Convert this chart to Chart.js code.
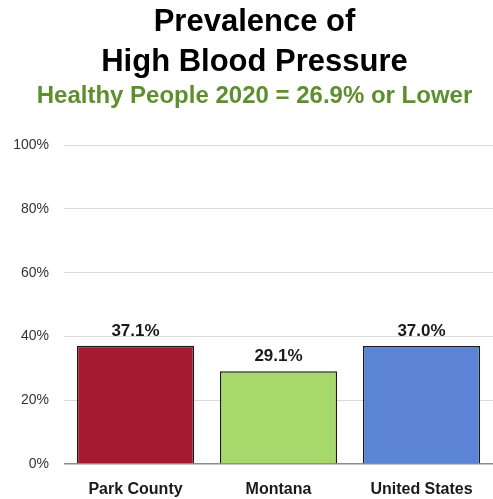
<!DOCTYPE html>
<html>
<head>
<meta charset="utf-8">
<script src="https://cdn.jsdelivr.net/npm/chart.js@4"></script>
<style>
  html, body { margin: 0; padding: 0; background: #fff; }
  #wrap { width: 493px; height: 499px; }
</style>
</head>
<body>
<div id="wrap"><canvas id="Chart1"></canvas></div>
<script>
// chart values
const categories = ['Park County', 'Montana', 'United States'];
const prevalence = [37.1, 29.1, 37.0];
const barColors = ['#A51A30', '#A7D86A', '#5B84D6'];
const yTicks = [0, 20, 40, 60, 80, 100];

const narrow = "'Liberation Sans Narrow', 'Arial Narrow', 'Liberation Sans', Arial, sans-serif";

// draws the value above each bar
const valueLabels = {
  id: 'valueLabels',
  afterDatasetsDraw(chart) {
    const ctx = chart.ctx;
    const meta = chart.getDatasetMeta(0);
    ctx.save();
    ctx.font = 'bold 17px ' + narrow;
    ctx.fillStyle = '#1a1a1a';
    ctx.textAlign = 'center';
    ctx.textBaseline = 'alphabetic';
    meta.data.forEach((bar, i) => {
      ctx.fillText(prevalence[i].toFixed(1) + '%', bar.x, bar.y - 10);
    });
    ctx.restore();
  }
};

// nudge title + subtitle a bit to the right, like the original
const shiftTitles = {
  id: 'shiftTitles',
  afterLayout(chart) {
    chart.boxes.forEach(b => {
      if (b.fullSize && b.options && b.options.text !== undefined) {
        b.left += 16;
      }
    });
  }
};

function drawChart() {
  const ctx = document.getElementById('Chart1');
  const chartdata = {
    labels: categories,
    datasets: [{
      data: prevalence,
      backgroundColor: barColors,
      borderColor: '#1a1a1a',
      borderWidth: 1.5,
      categoryPercentage: 0.82,
      barPercentage: 1.0
    }]
  };

  const config = {
    type: 'bar',
    data: chartdata,
    plugins: [valueLabels, shiftTitles],
    options: {
      responsive: true,
      maintainAspectRatio: false,
      animation: false,
      layout: { padding: { left: 0, right: 0, top: 0, bottom: 0 } },
      plugins: {
        legend: { display: false },
        tooltip: { enabled: false },
        title: {
          display: true,
          text: ['Prevalence of', 'High Blood Pressure'],
          color: '#000',
          font: { family: 'Liberation Sans, Arial, sans-serif', size: 31, weight: 'bold', lineHeight: 1.3 },
          padding: { top: 2, bottom: 0 }
        },
        subtitle: {
          display: true,
          text: 'Healthy People 2020 = 26.9% or Lower',
          color: '#5E8F2E',
          font: { family: 'Liberation Sans, Arial, sans-serif', size: 24, weight: 'bold', lineHeight: 1.15 },
          padding: { top: 0, bottom: 35 }
        }
      },
      scales: {
        x: {
          grid: { display: false },
          border: { display: false },
          afterFit(scale) { scale.height = 35; },
          ticks: {
            color: '#1a1a1a',
            font: { family: narrow, size: 16, weight: 'bold' },
            padding: 8
          }
        },
        y: {
          min: 0,
          max: 100,
          afterBuildTicks(scale) {
            scale.ticks = yTicks.map(v => ({ value: v }));
          },
          afterFit(scale) { scale.width = 64; },
          grid: {
            color: ctx => ctx.tick.value === 0 ? '#8c8c8c' : '#d9d9d9',
            lineWidth: ctx => ctx.tick.value === 0 ? 1.5 : 1,
            drawTicks: false
          },
          border: { display: false },
          ticks: {
            color: '#333',
            font: { family: narrow, size: 14 },
            padding: 15,
            callback: v => v + '%'
          }
        }
      }
    }
  };

  new Chart(ctx, config);
}

document.addEventListener('DOMContentLoaded', drawChart);
</script>
</body>
</html>
